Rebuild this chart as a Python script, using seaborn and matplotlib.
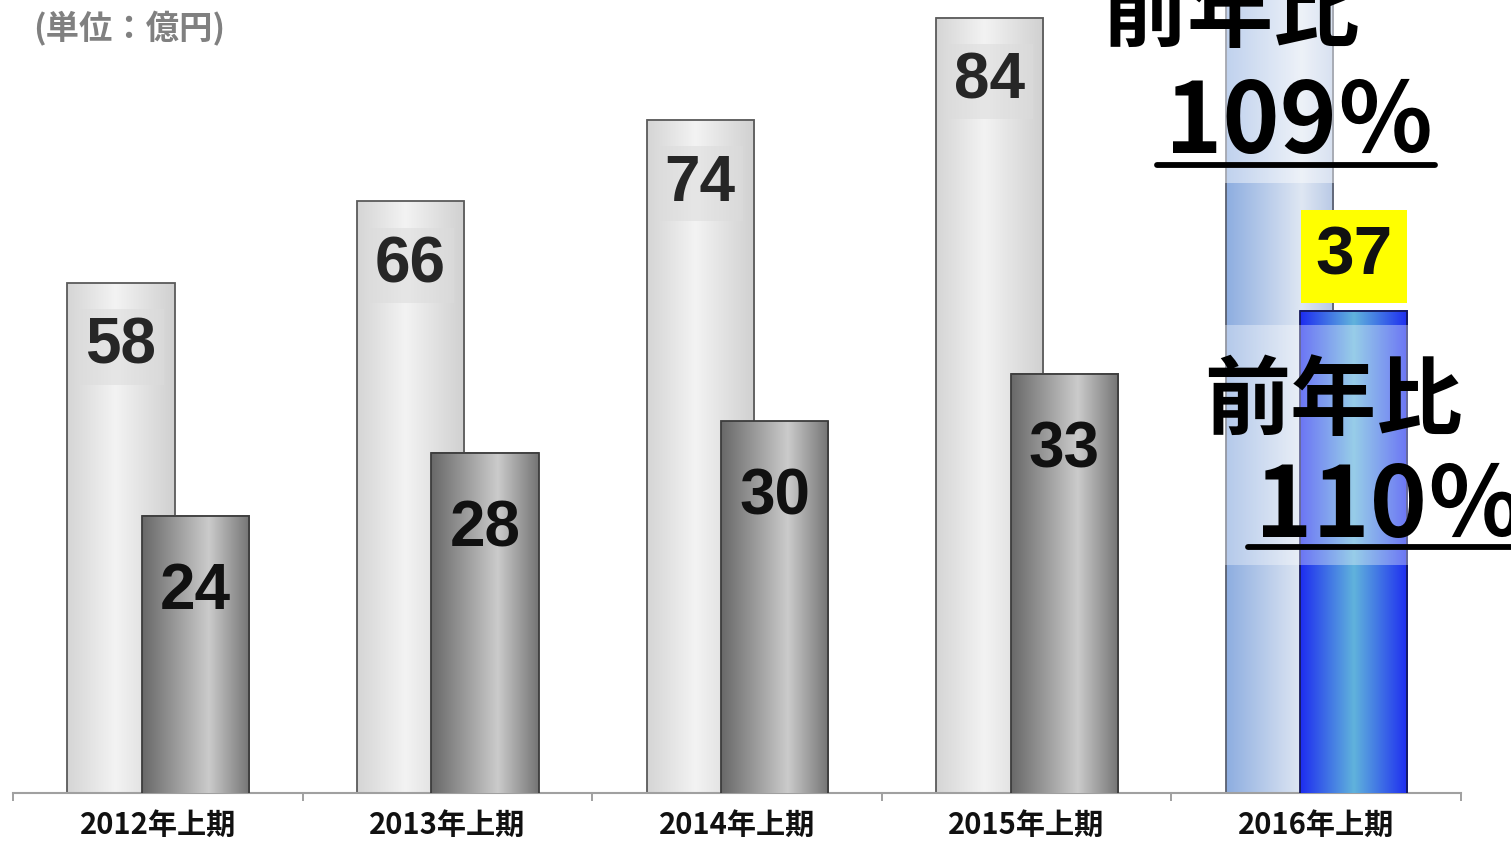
import numpy as np
import pandas as pd
import seaborn as sns
import matplotlib.pyplot as plt
from matplotlib.colors import LinearSegmentedColormap
from matplotlib.patches import Rectangle
from matplotlib.lines import Line2D

# ---------------- data ----------------
categories = ["2012年上期", "2013年上期", "2014年上期", "2015年上期", "2016年上期"]
series_total = [58, 66, 74, 84, 92]      # light (back) bars
series_part = [24, 28, 30, 33, 37]       # dark (front) bars
unit_label = "(単位：億円)"
yoy_title = "前年比"
yoy_total = "109％"
yoy_part = "110％"

# ---------------- style ----------------
sns.set_theme(style="white")
plt.rcParams["font.family"] = ["Noto Sans CJK JP", "DejaVu Sans"]

W, H = 1511, 842
fig = plt.figure(figsize=(W / 100, H / 100), dpi=100)
fig.patch.set_facecolor("white")
rect = [13 / W, 1 - 793 / H, 1448 / W, 793 / H]
ax1 = fig.add_axes(rect)
ax2 = fig.add_axes(rect)
ax2.patch.set_visible(False)

BAR_W = 0.37
OFF1, OFF2 = -0.127, 0.13

df = pd.DataFrame({"period": categories, "total": series_total, "part": series_part})
sns.barplot(data=df, x="period", y="total", ax=ax1, width=BAR_W, color="#e8e8e8",
            edgecolor="#5a5a5a", linewidth=1.3)
sns.barplot(data=df, x="period", y="part", ax=ax2, width=BAR_W, color="#999999",
            edgecolor="#444444", linewidth=1.3)

for p in ax1.patches:
    p.set_x(p.get_x() + OFF1)
for p in ax2.patches:
    p.set_x(p.get_x() + OFF2)

n = len(categories)
ax1.set_xlim(-0.5, n - 0.5)
ax2.set_xlim(-0.5, n - 0.5)
ax1.set_ylim(8.0, 85.75)
ax2.set_ylim(6.43, 56.7)

grad_light = [(0, "#d5d5d5"), (0.45, "#f3f3f3"), (1, "#d0d0d0")]
grad_dark = [(0, "#686868"), (0.62, "#cbcbcb"), (1, "#747474")]
grad_lblue = [(0, "#8dade0"), (0.7, "#dfe7f3"), (1, "#b8c9e6")]
grad_blue = [(0, "#1d2cf0"), (0.5, "#60b3dc"), (1, "#1d2cf0")]


def shade(ax, patch, stops, edge):
    x, y, w, h = patch.get_x(), patch.get_y(), patch.get_width(), patch.get_height()
    cmap = LinearSegmentedColormap.from_list("g", stops)
    im = ax.imshow(np.linspace(0, 1, 256)[None, :], cmap=cmap, extent=[x, x + w, y, y + h],
                   aspect="auto", interpolation="bicubic", zorder=patch.get_zorder() - 0.1)
    im.set_clip_path(patch)
    im.set_clip_box(ax.bbox)
    patch.set_facecolor("none")
    patch.set_edgecolor(edge)


for i, p in enumerate(ax1.patches[:n]):
    if i == n - 1:
        shade(ax1, p, grad_lblue, "#5a6070")
    else:
        shade(ax1, p, grad_light, "#5a5a5a")
for i, p in enumerate(ax2.patches[:n]):
    if i == n - 1:
        shade(ax2, p, grad_blue, "#15185a")
    else:
        shade(ax2, p, grad_dark, "#3c3c3c")

ax1.set_xlim(-0.5, n - 0.5)
ax2.set_xlim(-0.5, n - 0.5)
ax1.set_ylim(8.0, 85.75)
ax2.set_ylim(6.43, 56.7)

# value labels
for i, p in enumerate(ax1.patches[:n - 1]):
    cx = p.get_x() + p.get_width() / 2
    ax1.annotate(str(series_total[i]), xy=(cx, series_total[i]), xytext=(0, -46),
                 textcoords="offset points", ha="center", va="center", fontsize=46,
                 fontweight="bold", color="#262626", family=["Liberation Sans"],
                 bbox=dict(boxstyle="square,pad=0.12", fc="#dcdcdc", ec="none", alpha=0.55))
for i, p in enumerate(ax2.patches[:n]):
    cx = p.get_x() + p.get_width() / 2
    if i == n - 1:
        ax2.annotate(str(series_part[i]), xy=(cx, series_part[i]), xytext=(0, 39),
                     textcoords="offset points", ha="center", va="center", fontsize=50,
                     fontweight="bold", color="#111111", family=["Liberation Sans"],
                     bbox=dict(boxstyle="square,pad=0.21", fc="#ffff00", ec="none"))
    else:
        ax2.annotate(str(series_part[i]), xy=(cx, series_part[i]), xytext=(0, -55),
                     textcoords="offset points", ha="center", va="center", fontsize=46,
                     fontweight="bold", color="#111111", family=["Liberation Sans"])

# axes styling
for s in ("left", "right", "top"):
    ax1.spines[s].set_visible(False)
ax1.spines["bottom"].set_color("#a0a0a0")
ax1.spines["bottom"].set_linewidth(1.5)
ax1.set_yticks([])
ax1.set_xlabel("")
ax1.set_ylabel("")
ax2.set_axis_off()

ax1.set_xticks(range(n))
ax1.set_xticklabels(categories, fontsize=21, fontweight="bold", color="#111111")
ax1.set_xticks(np.arange(-0.5, n, 1.0), minor=True)
ax1.tick_params(axis="x", which="major", length=0, pad=12)
ax1.tick_params(axis="x", which="minor", length=6, width=1.4, color="#a0a0a0",
                direction="out", bottom=True)

# unit label
fig.text(33 / W, 1 - 29 / H, unit_label, ha="left", va="center", fontsize=24,
         fontweight="bold", color="#808080")


def fx(px):
    return px / W


def fy(py):
    return 1 - py / H


# semi-transparent text boxes
fig.add_artist(Rectangle((fx(1095), fy(183)), (1440 - 1095) / W, 183 / H,
                         transform=fig.transFigure, fc="white", ec="none", alpha=0.45, zorder=2))
fig.add_artist(Rectangle((fx(1200), fy(565)), (1511 - 1200) / W, (565 - 325) / H,
                         transform=fig.transFigure, fc="white", ec="none", alpha=0.35, zorder=2))

# year-on-year annotations
fig.text(fx(1230), fy(15), yoy_title, ha="center", va="center", fontsize=62,
         fontweight="bold", color="black", zorder=4)
fig.text(fx(1165), fy(124), yoy_total, ha="left", va="center", fontsize=70,
         fontweight="bold", color="black", family=["Noto Sans CJK JP"], zorder=4)
fig.add_artist(Line2D([fx(1157), fx(1435)], [fy(165), fy(165)], transform=fig.transFigure,
                      color="black", lw=4.2, zorder=4))

fig.text(fx(1333), fy(403), yoy_title, ha="center", va="center", fontsize=62,
         fontweight="bold", color="black", zorder=4)
fig.text(fx(1255), fy(509), yoy_part, ha="left", va="center", fontsize=70,
         fontweight="bold", color="black", family=["Noto Sans CJK JP"], zorder=4)
fig.add_artist(Line2D([fx(1248), fx(1511)], [fy(547), fy(547)], transform=fig.transFigure,
                      color="black", lw=4.2, zorder=4))

fig.savefig("out.png", dpi=100)
